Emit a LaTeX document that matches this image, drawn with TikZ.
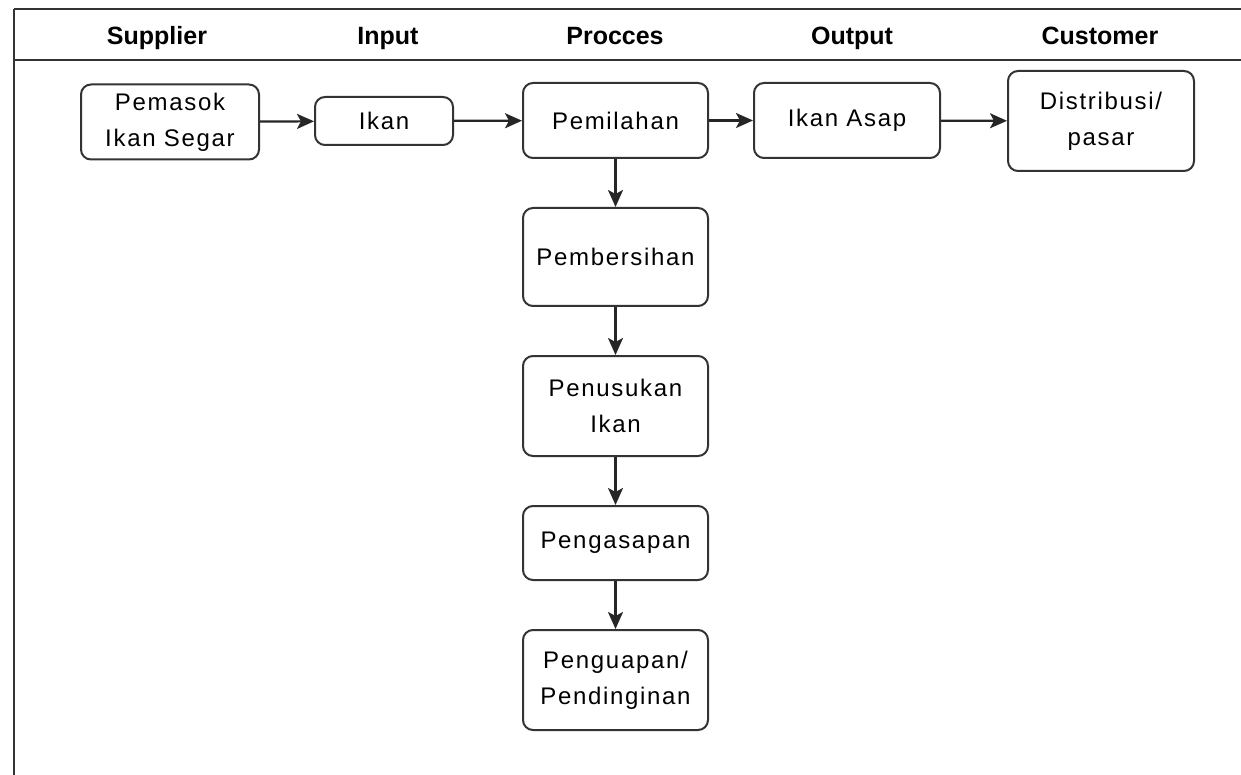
\documentclass[tikz,border=0pt]{standalone}
\usepackage{fontspec}
\setmainfont{Liberation Sans}
\newfontfamily\boxfont[LetterSpace=7]{Liberation Sans}
\usetikzlibrary{arrows.meta}
\begin{document}
\begin{tikzpicture}[x=1pt,y=-1pt,
  frame/.style={line width=1.8pt,draw=black!80},
  hdr/.style={font=\fontsize{25}{30}\selectfont\bfseries,anchor=base,inner sep=0pt},
  proc/.style={draw=black!80,line width=2pt,rounded corners=10pt,fill=white,
    font=\boxfont\fontsize{24}{36}\selectfont,align=center,inner sep=0pt},
  flow/.style={line width=2.2pt,draw=black!85,-{Stealth[length=17pt,width=15pt,inset=4pt]}}]
\useasboundingbox (0,0) rectangle (1241,775);
% frame
\draw[frame] (14,9) -- (1241,9);
\draw[frame] (14,60) -- (1241,60);
\draw[frame] (14,9) -- (14,775);
% headers
\node[hdr] (h1) at (157,45) {Supplier};
\node[hdr] (h2) at (388,45) {Input};
\node[hdr] (h3) at (615,45) {Procces};
\node[hdr] (h4) at (852,45) {Output};
\node[hdr] (h5) at (1100,45) {Customer};
% boxes
\node[proc,minimum width=178pt,minimum height=75pt] (sup) at (170,122) {Pemasok\\Ikan Segar};
\node[proc,minimum width=138pt,minimum height=48pt] (inp) at (384,121) {Ikan};
\node[proc,minimum width=185pt,minimum height=75pt] (pil) at (615.5,120.5) {Pemilahan};
\node[proc,minimum width=186pt,minimum height=75pt] (out) at (847,120.5) {Ikan Asap};
\node[proc,minimum width=186pt,minimum height=100pt] (cus) at (1101,121) {Distribusi/\\pasar};
\node[proc,minimum width=185pt,minimum height=98pt] (ber) at (615.5,257) {Pembersihan};
\node[proc,minimum width=185pt,minimum height=100pt] (tus) at (615.5,406) {Penusukan\\Ikan};
\node[proc,minimum width=185pt,minimum height=74pt] (asp) at (615.5,543) {Pengasapan};
\node[proc,minimum width=185pt,minimum height=100pt] (uap) at (615.5,680) {Penguapan/\\Pendinginan};
% connectors
\draw[flow] (sup) -- (inp);
\draw[flow] (inp) -- (pil);
\draw[flow] (pil) -- (out);
\draw[flow] (out) -- (cus);
\draw[flow] (pil) -- (ber);
\draw[flow] (ber) -- (tus);
\draw[flow] (tus) -- (asp);
\draw[flow] (asp) -- (uap);
\end{tikzpicture}
\end{document}
